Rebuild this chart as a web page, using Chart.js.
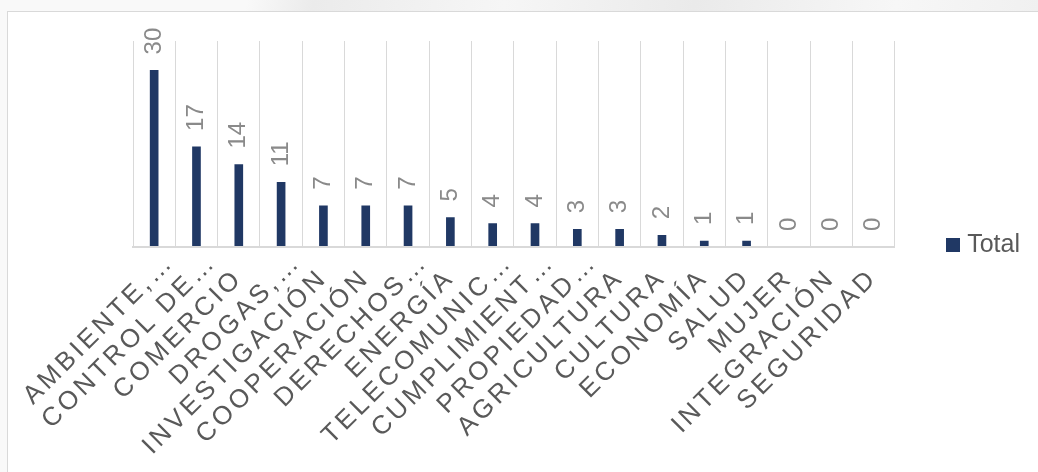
<!DOCTYPE html>
<html>
<head>
<meta charset="utf-8">
<title>Total por tema</title>
<script src="https://cdn.jsdelivr.net/npm/chart.js@4/dist/chart.umd.min.js"></script>
<style>
  html, body { margin: 0; padding: 0; }
  body {
    width: 1038px; height: 472px; overflow: hidden; position: relative;
    background: linear-gradient(100deg, #f9f9f9 0%, #f9f9f9 22%, #ebebeb 28%, #f6f6f6 45%, #eaeaea 62%, #f7f7f7 80%, #ececec 100%);
  }
  #frame {
    position: absolute; left: 7px; top: 11px; width: 1040px; height: 470px;
    background: #fff; border: 1.5px solid #d9d9d9; box-sizing: border-box;
  }
  #chart { position: absolute; left: 0; top: 0; }
</style>
</head>
<body>
<div id="frame"></div>
<canvas id="chart" width="1038" height="472"></canvas>
<script>
const categories = [
  'AMBIENTE,…', 'CONTROL DE…', 'COMERCIO', 'DROGAS,…', 'INVESTIGACIÓN',
  'COOPERACIÓN', 'DERECHOS…', 'ENERGÍA', 'TELECOMUNIC…', 'CUMPLIMIENT…',
  'PROPIEDAD…', 'AGRICULTURA', 'CULTURA', 'ECONOMÍA', 'SALUD', 'MUJER',
  'INTEGRACIÓN', 'SEGURIDAD'
];
const totals = [30, 17, 14, 11, 7, 7, 7, 5, 4, 4, 3, 3, 2, 1, 1, 0, 0, 0];
const seriesName = 'Total';

const BAR_COLOR = '#203864';
const LABEL_SPACING = '3.5px';
const ELLIPSIS_SHIFT = 16;

Chart.defaults.font.family = '"Liberation Sans", Arial, sans-serif';

// category axis: spaced-out tick labels, shortened names let the "…" run past the tick
class SpacedCategoryScale extends Chart.CategoryScale {
  _getLabelSizes() {
    const ctx = this.ctx;
    ctx.save();
    ctx.letterSpacing = LABEL_SPACING;
    const sizes = super._getLabelSizes();
    ctx.restore();
    return sizes;
  }
  _computeLabelItems(chartArea) {
    const items = super._computeLabelItems(chartArea);
    items.forEach(item => {
      if (String(item.label).endsWith('…')) {
        const [x, y] = item.options.translation;
        item.options.translation = [x + ELLIPSIS_SHIFT, y - ELLIPSIS_SHIFT];
      }
    });
    return items;
  }
  _computeLabelArea() {
    return undefined;
  }
  drawLabels(area) {
    const ctx = this.ctx;
    ctx.save();
    ctx.letterSpacing = LABEL_SPACING;
    super.drawLabels(area);
    ctx.restore();
  }
}
SpacedCategoryScale.id = 'spacedCategory';
SpacedCategoryScale.defaults = Chart.CategoryScale.defaults;
Chart.register(SpacedCategoryScale);

// square legend marker, drawn as an image so the text sits close to it
const legendSwatch = document.createElement('canvas');
legendSwatch.width = 14;
legendSwatch.height = 14;
const swCtx = legendSwatch.getContext('2d');
swCtx.fillStyle = BAR_COLOR;
swCtx.fillRect(0, 0, 14, 14);

// vertical value labels above each bar
const valueLabels = {
  id: 'valueLabels',
  afterDatasetsDraw(chart) {
    const ctx = chart.ctx;
    const meta = chart.getDatasetMeta(0);
    ctx.save();
    ctx.font = '24px "Liberation Sans", Arial, sans-serif';
    ctx.fillStyle = '#8a8a8a';
    ctx.textAlign = 'left';
    ctx.textBaseline = 'middle';
    meta.data.forEach((bar, i) => {
      ctx.save();
      ctx.translate(bar.x, bar.y - 16);
      ctx.rotate(-Math.PI / 2);
      ctx.fillText(String(totals[i]), 0, 0);
      ctx.restore();
    });
    ctx.restore();
  }
};

new Chart(document.getElementById('chart'), {
  type: 'bar',
  data: {
    labels: categories,
    datasets: [{
      label: seriesName,
      data: totals,
      backgroundColor: BAR_COLOR,
      barThickness: 8
    }]
  },
  options: {
    responsive: false,
    animation: false,
    devicePixelRatio: 1,
    layout: { padding: { top: 41, left: 133, right: 8, bottom: 23 } },
    scales: {
      x: {
        type: 'spacedCategory',
        grid: { color: '#d9d9d9', lineWidth: 1, drawTicks: false, offset: true },
        border: { color: '#d9d9d9', width: 2, z: 1 },
        ticks: {
          color: '#595959',
          font: { size: 26 },
          minRotation: 45,
          maxRotation: 45,
          autoSkip: false,
          padding: 16
        },
        afterFit(scale) {
          scale.height = 202;
          scale.paddingLeft = 0;
          scale.paddingRight = 0;
        }
      },
      y: { display: false, min: 0, max: 35 }
    },
    plugins: {
      legend: {
        position: 'right',
        labels: {
          usePointStyle: true,
          pointStyle: legendSwatch,
          pointStyleWidth: 4,
          boxHeight: 14,
          padding: 56,
          color: '#595959',
          font: { size: 25 }
        }
      },
      tooltip: { enabled: false }
    }
  },
  plugins: [valueLabels]
});
</script>
</body>
</html>
